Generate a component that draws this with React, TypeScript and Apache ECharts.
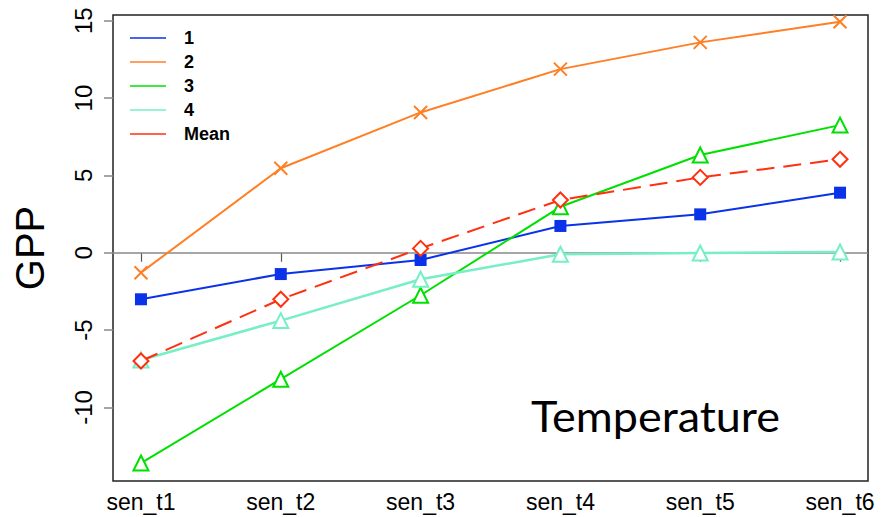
import React, { useEffect, useRef } from "react";
import * as echarts from "echarts";

const categories = ["sen_t1", "sen_t2", "sen_t3", "sen_t4", "sen_t5", "sen_t6"];
const seriesNames = ["1", "2", "3", "4", "Mean"];
const s1 = [-3.01, -1.38, -0.47, 1.73, 2.48, 3.88];
const s2 = [-1.29, 5.46, 9.07, 11.87, 13.6, 14.93];
const s3 = [-13.6, -8.18, -2.75, 2.97, 6.32, 8.25];
const s4 = [-6.94, -4.39, -1.72, -0.1, -0.02, 0.05];
const sMean = [-7.0, -3.01, 0.28, 3.41, 4.87, 6.04];
const yTicks = [-10, -5, 0, 5, 10, 15];
const xTicks = [1, 2, 3, 4, 5, 6];

const colors = ["#0a32e8", "#ff7f24", "#00e000", "#76eec6", "#ff3010"];
const X_PATH = "path://M0,0L10,10M10,0L0,10";

const toPts = (arr: number[]) => arr.map((v, i) => [i + 1, v]);

export default function App() {
  const ref = useRef<HTMLDivElement>(null);
  useEffect(() => {
    if (!ref.current) return;
    const chart = echarts.init(ref.current, undefined, { renderer: "svg" });
    const font = "'Liberation Sans', Arial, sans-serif";
    const option: any = {
      animation: false,
      backgroundColor: "#ffffff",
      grid: {
        show: true,
        left: 113,
        right: 13,
        top: 15,
        bottom: 36,
        borderColor: "#222",
        borderWidth: 1.5,
        backgroundColor: "transparent",
      },
      legend: {
        orient: "vertical",
        left: 125,
        top: 21,
        itemWidth: 36,
        itemHeight: 1.6,
        itemGap: 0,
        textStyle: {
          fontFamily: font,
          fontWeight: "bold",
          fontSize: 18,
          color: "#000",
          lineHeight: 24,
          padding: [0, 0, 0, 13],
        },
        data: seriesNames.map((n, i) => ({
          name: n,
          icon: "rect",
          itemStyle: { color: colors[i], borderWidth: 0 },
        })),
      },
      xAxis: {
        type: "value",
        min: 0.8,
        max: 6.2,
        axisLine: { show: false },
        splitLine: { show: false },
        axisTick: {
          show: true,
          customValues: xTicks,
          length: 9,
          lineStyle: { color: "#555", width: 1.2 },
        },
        axisLabel: {
          customValues: xTicks,
          formatter: (v: number) => categories[Math.round(v) - 1],
          fontFamily: font,
          fontSize: 23,
          color: "#000",
          margin: 9,
        },
      },
      yAxis: {
        type: "value",
        min: -14.76,
        max: 15.37,
        name: "GPP",
        nameLocation: "middle",
        nameGap: 63,
        nameTextStyle: { fontFamily: font, fontSize: 40, color: "#000" },
        axisLine: { show: false },
        splitLine: { show: false },
        axisTick: {
          show: true,
          customValues: yTicks,
          length: 9,
          lineStyle: { color: "#888", width: 1.5 },
        },
        axisLabel: {
          customValues: yTicks,
          rotate: 90,
          fontFamily: font,
          fontSize: 24,
          color: "#000",
          margin: 18,
        },
      },
      graphic: [
        {
          type: "text",
          x: 531,
          y: 415.5,
          scaleX: 1.07,
          style: {
            text: "Temperature",
            fontFamily: "Lato, 'Open Sans', sans-serif",
            fontSize: 42,
            fill: "#000",
            verticalAlign: "middle",
            align: "left",
          },
        },
      ],
      series: [
        {
          name: "1",
          type: "line",
          data: toPts(s1),
          symbol: "rect",
          symbolSize: 12,
          lineStyle: { color: colors[0], width: 2 },
          itemStyle: { color: colors[0] },
          z: 3,
          markLine: {
            silent: true,
            symbol: "none",
            label: { show: false },
            lineStyle: { color: "#888", width: 1.5, type: "solid" },
            data: [{ yAxis: 0 }],
            z: 1,
          },
        },
        {
          name: "2",
          type: "line",
          data: toPts(s2),
          symbol: X_PATH,
          symbolSize: 13,
          lineStyle: { color: colors[1], width: 2 },
          itemStyle: { color: colors[1], borderColor: colors[1], borderWidth: 2 },
          z: 3,
        },
        {
          name: "3",
          type: "line",
          data: toPts(s3),
          symbol: "triangle",
          symbolSize: 15,
          lineStyle: { color: colors[2], width: 2 },
          itemStyle: { color: "#fff", borderColor: colors[2], borderWidth: 2 },
          z: 3,
        },
        {
          name: "4",
          type: "line",
          data: toPts(s4),
          symbol: "triangle",
          symbolSize: 15,
          lineStyle: { color: colors[3], width: 2.5 },
          itemStyle: { color: "#fff", borderColor: colors[3], borderWidth: 2 },
          z: 3,
        },
        {
          name: "Mean",
          type: "line",
          data: toPts(sMean),
          symbol: "diamond",
          symbolSize: 15,
          lineStyle: { color: colors[4], width: 2, type: [18, 9] },
          itemStyle: { color: "#fff", borderColor: colors[4], borderWidth: 2 },
          z: 4,
        },
      ],
    };
    chart.setOption(option);
    return () => chart.dispose();
  }, []);
  return (
    <div
      ref={ref}
      style={{ position: "fixed", left: 0, top: 0, width: 881, height: 517 }}
    />
  );
}
